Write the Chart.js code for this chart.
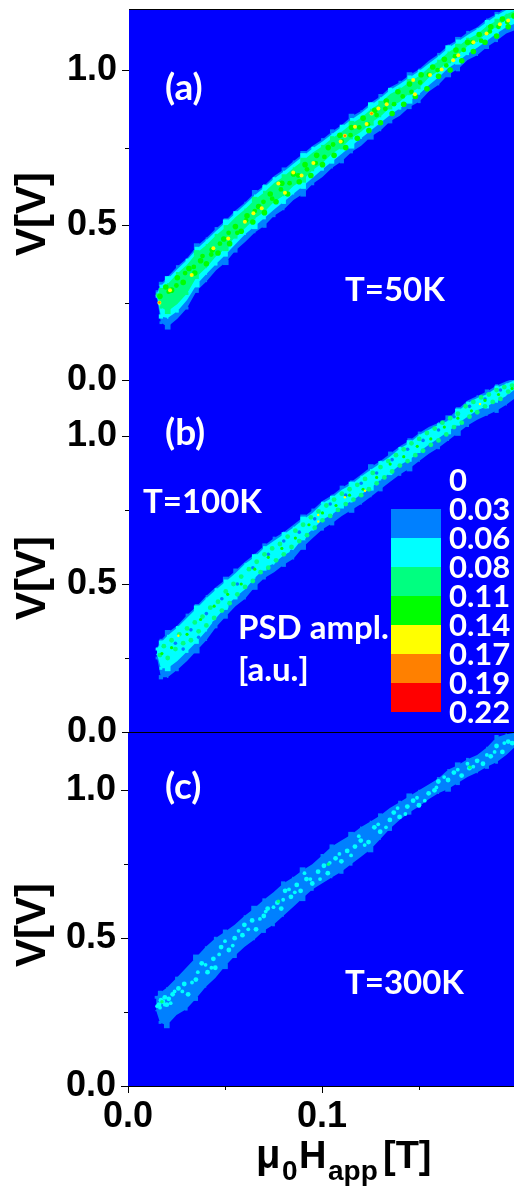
<!DOCTYPE html>
<html><head><meta charset="utf-8">
<script src="https://cdn.jsdelivr.net/npm/chart.js@4"></script>
<style>html,body{margin:0;padding:0;background:#fff}canvas{position:absolute;left:0}</style>
</head><body>
<canvas id="pa" width="514" height="400" style="top:0"></canvas>
<canvas id="pb" width="514" height="380" style="top:370px"></canvas>
<canvas id="pc" width="514" height="469" style="top:720px"></canvas>
<script>
// ---- shared field grid (T) ----
const fieldT=[.0145,.0165,.02,.025,.03,.035,.04,.045,.05,.055,.06,.065,.07,.075,.08,.085,.09,.095,.1,.105,.11,.115,.12,.125,.13,.135,.14,.145,.15,.155,.16,.165,.17,.175,.18,.185,.19,.195,.2];
const xTickValues=[0,.05,.1,.15];
const xTickLabels={0:'0.0',0.1:'0.1'};
const yTickValues=[0,.25,.5,.75,1];
const yTickLabels={0:'0.0',0.5:'0.5',1:'1.0'};
const scaleColors=['#0080ff','#00ffff','#00ff80','#00ff00','#ffff00','#ff8000','#ff0000'];
const scaleLabels=['0','0.03','0.06','0.08','0.11','0.14','0.17','0.19','0.22'];
const edgeR1=[2,3,1,2,0,4,1,2,3,0,1,4,2,0,3,1,4,0,2,3,0,4,1,1,3,0,2,4,1,0,2,1,4,2,0,1,3,1,2];
const edgeR2=[1,2,4,0,2,3,1,0,4,3,0,1,3,2,1,0,4,2,0,1,3,2,0,4,1,3,0,3,2,0,1,4,3,0,1,3,2,0,1];

// ---- panel (a) T=50K ----
const aBlueUp=[.285,.31,.333,.366,.393,.432,.458,.489,.515,.547,.573,.604,.628,.658,.679,.706,.73,.756,.776,.802,.823,.85,.868,.895,.916,.945,.961,.984,1.003,1.03,1.051,1.08,1.098,1.122,1.138,1.164,1.181,1.202,1.215];
const aBlueLow=[.265,.185,.172,.198,.232,.288,.318,.354,.38,.418,.445,.476,.498,.53,.55,.581,.601,.633,.655,.685,.706,.736,.756,.785,.805,.835,.853,.881,.898,.931,.953,.986,1.003,1.033,1.048,1.075,1.095,1.118,1.13];
const aCyanUp=[.28,.303,.326,.358,.387,.423,.451,.481,.509,.538,.566,.596,.622,.65,.673,.698,.723,.748,.77,.794,.817,.841,.862,.887,.91,.936,.955,.976,.997,1.021,1.045,1.071,1.092,1.113,1.133,1.155,1.176,1.194,1.21];
const aCyanLow=[.27,.205,.2,.222,.258,.308,.342,.374,.405,.438,.47,.496,.523,.55,.575,.601,.626,.653,.68,.705,.73,.756,.78,.805,.83,.855,.877,.901,.923,.951,.977,1.006,1.027,1.053,1.072,1.095,1.118,1.138,1.152];
const aSpringUp=[.275,.29,.31,.344,.372,.41,.436,.467,.493,.525,.551,.582,.606,.636,.657,.684,.708,.734,.754,.78,.801,.827,.846,.873,.894,.923,.939,.962,.981,1.008,1.029,1.058,1.076,1.1,1.116,1.142,1.159,1.18,1.193];
const aSpringLow=[.272,.235,.222,.245,.279,.333,.363,.399,.425,.463,.49,.521,.543,.575,.595,.626,.646,.678,.7,.73,.751,.781,.801,.83,.85,.88,.898,.926,.943,.976,.998,1.031,1.048,1.078,1.093,1.12,1.14,1.163,1.175];
const aGreenX=[.016,.019,.022,.025,.028,.031,.034,.037,.04,.043,.046,.049,.052,.055,.058,.061,.064,.067,.07,.073,.076,.079,.082,.085,.088,.091,.094,.097,.1,.103,.106,.109,.112,.115,.118,.121,.124,.127,.13,.133,.136,.139,.142,.145,.148,.151,.154,.157,.16,.163,.166,.169,.172,.175,.178,.181,.184,.187,.19,.193,.196,.199];
const aGreenV=[.27,.3,.29,.33,.315,.36,.345,.385,.375,.42,.41,.455,.44,.495,.48,.53,.51,.56,.54,.6,.575,.635,.6,.665,.64,.695,.66,.725,.695,.75,.725,.79,.75,.815,.78,.845,.805,.87,.83,.9,.86,.93,.89,.955,.915,.985,.94,1.01,.98,1.035,1,1.065,1.03,1.09,1.06,1.115,1.09,1.14,1.11,1.165,1.14,1.175];
const aGreen2X=[.0205,.0245,.029,.0335,.038,.0425,.047,.0515,.056,.0605,.065,.0695,.074,.0785,.083,.0875,.092,.0965,.101,.1055,.11,.1145,.119,.1235,.128,.1325,.137,.1415,.146,.1505,.155,.1595,.164,.1685,.173,.1775,.182,.1865,.191,.1955];
const aGreen2V=[.285,.305,.345,.365,.4,.405,.44,.475,.475,.515,.545,.575,.585,.615,.635,.66,.68,.7,.72,.76,.77,.79,.815,.825,.855,.875,.89,.915,.93,.96,.985,1,1.015,1.045,1.065,1.09,1.095,1.125,1.14,1.155];
const aYellowX=[.0157,.0212,.0324,.0436,.0513,.0599,.0643,.0686,.0772,.0806,.0849,.0892,.0953,.1094,.1116,.1168,.1228,.1254,.1289,.1332,.1469,.1478,.1556,.1616,.1676,.1702,.178,.1848,.1917,.196];
const aYellowV=[.249,.29,.339,.425,.457,.511,.538,.554,.634,.604,.67,.66,.7,.77,.788,.817,.826,.86,.876,.89,.968,.922,.984,1.002,1.032,1.048,1.09,1.118,1.148,1.16];
const aOrangeX=[.0157,.1116,.1254];
const aOrangeV=[.25,.788,.86];

// ---- panel (b) T=100K ----
const bBlueUp=[.285,.31,.335,.36,.395,.425,.46,.49,.515,.545,.575,.6,.63,.655,.675,.7,.725,.75,.78,.8,.825,.845,.87,.895,.915,.94,.965,.985,1.01,1.03,1.045,1.06,1.09,1.12,1.135,1.15,1.17,1.185,1.195];
const bBlueLow=[.25,.185,.185,.21,.24,.275,.31,.355,.39,.425,.45,.49,.52,.54,.565,.585,.625,.655,.685,.705,.73,.75,.77,.795,.82,.845,.87,.89,.915,.94,.96,.985,1.01,1.035,1.055,1.07,1.085,1.105,1.13];
const bCyanUp=[.28,.302,.326,.353,.386,.418,.452,.481,.508,.536,.568,.591,.623,.646,.668,.691,.718,.741,.773,.791,.818,.836,.863,.886,.908,.931,.958,.976,1.003,1.021,1.038,1.051,1.083,1.111,1.128,1.141,1.163,1.176,1.19];
const bCyanLow=[.262,.215,.215,.24,.272,.305,.342,.385,.422,.455,.482,.52,.552,.57,.597,.615,.657,.685,.717,.735,.762,.78,.802,.825,.852,.875,.902,.92,.947,.97,.992,1.015,1.042,1.065,1.087,1.1,1.117,1.135,1.16];
const bDarkX=[.024,.028,.032,.036,.04,.044,.048,.052,.056,.06,.064,.068,.072,.076,.08,.084,.088,.092,.096,.1,.104,.108,.112,.116,.12,.124,.128,.132,.136,.14,.144,.148,.152,.156,.16,.164,.168,.172,.176,.18,.184,.188,.192,.196];
const bDarkV=[.3,.28,.345,.32,.4,.37,.45,.415,.5,.47,.555,.525,.6,.565,.645,.61,.675,.65,.72,.7,.77,.735,.8,.77,.84,.805,.875,.845,.92,.885,.955,.92,.985,.96,1.02,1,1.065,1.035,1.1,1.07,1.125,1.1,1.155,1.135];
const bSpringX=[.016,.018,.02,.022,.024,.026,.028,.03,.032,.034,.036,.038,.04,.042,.044,.046,.048,.05,.052,.054,.056,.058,.06,.062,.064,.066,.068,.07,.072,.074,.076,.078,.08,.082,.084,.086,.088,.09,.092,.094,.096,.098,.1,.102,.104,.106,.108,.11,.112,.114,.116,.118,.12,.122,.124,.126,.128,.13,.132,.134,.136,.138,.14,.142,.144,.146,.148,.15,.152,.154,.156,.158,.16,.162,.164,.166,.168,.17,.172,.174,.176,.178,.18,.182,.184,.186,.188,.19,.192,.194,.196,.198];
const bSpringV=[.26,.29,.25,.31,.28,.33,.3,.35,.31,.37,.34,.39,.36,.42,.385,.44,.41,.475,.435,.5,.465,.525,.49,.55,.51,.575,.54,.6,.555,.62,.58,.635,.6,.66,.625,.68,.645,.7,.665,.725,.69,.745,.715,.765,.73,.785,.75,.805,.77,.82,.785,.835,.8,.855,.82,.875,.84,.895,.86,.915,.88,.935,.9,.955,.915,.975,.935,.99,.95,1.01,.97,1.025,.985,1.045,1.005,1.06,1.03,1.075,1.045,1.1,1.065,1.115,1.08,1.13,1.1,1.14,1.115,1.155,1.125,1.165,1.15,1.17];
const bGreenX=[.017,.022,.03,.037,.044,.051,.058,.065,.072,.079,.086,.093,.1,.107,.114,.121,.128,.135,.142,.149,.156,.163,.17,.177,.184,.191,.198];
const bGreenV=[.265,.285,.33,.38,.425,.465,.5,.55,.59,.62,.655,.7,.74,.765,.8,.82,.86,.905,.93,.965,.99,1.03,1.06,1.085,1.12,1.14,1.16];
const bYellowX=[.0255,.0978,.0978,.1116,.122,.1814];
const bYellowV=[.325,.733,.711,.793,.815,1.108];

// ---- panel (c) T=300K ----
const cBlueUp=[.3,.315,.332,.365,.4,.435,.47,.5,.522,.545,.575,.6,.63,.655,.685,.705,.73,.75,.78,.81,.83,.85,.875,.895,.915,.94,.96,.98,1,1.02,1.04,1.07,1.085,1.105,1.12,1.145,1.18,1.19,1.195];
const cBlueLow=[.255,.215,.205,.24,.26,.295,.335,.365,.405,.44,.47,.495,.525,.545,.575,.605,.635,.665,.685,.705,.725,.75,.775,.8,.835,.87,.9,.925,.945,.97,.99,1.005,1.025,1.045,1.06,1.08,1.095,1.12,1.15];
const cCyanX=[.016,.017,.018,.019,.02,.021,.023,.026,.029,.031,.035,.038,.041,.044,.045,.048,.052,.055,.059,.06,.064,.066,.07,.072,.077,.079,.081,.084,.087,.089,.092,.095,.098,.101,.103,.107,.11,.113,.117,.12,.124,.127,.13,.135,.137,.14,.144,.147,.15,.155,.158,.16,.165,.168,.172,.176,.18,.183,.187,.19,.193,.196,.198];
const cCyanV=[.275,.29,.285,.3,.275,.295,.31,.33,.345,.31,.36,.415,.385,.43,.4,.47,.46,.5,.51,.545,.56,.53,.575,.6,.62,.6,.66,.64,.68,.66,.7,.685,.725,.745,.72,.77,.76,.795,.81,.83,.825,.875,.86,.9,.925,.91,.945,.965,.95,.99,1,1.03,1.035,1.06,1.05,1.075,1.1,1.09,1.115,1.15,1.13,1.165,1.16];
const cCyan2X=[.015,.0165,.019,.022,.024,.028,.033,.036,.04,.043,.047,.05,.054,.057,.062,.068,.071,.075,.08,.083,.086,.091,.094,.099,.104,.109,.115,.119,.122,.129,.133,.139,.143,.149,.153,.159,.163,.17,.175,.178,.185,.189,.194];
const cCyan2V=[.27,.265,.275,.28,.32,.32,.35,.385,.41,.4,.445,.49,.475,.525,.53,.565,.59,.605,.63,.665,.655,.72,.7,.7,.755,.785,.78,.845,.815,.885,.875,.94,.92,.975,.965,1.01,1.045,1.07,1.09,1.08,1.12,1.13,1.16];
const cSpringX=[.0175,.0775,.1033,.1762];
const cSpringV=[.285,.625,.75,1.078];

function pts(xs,vs){return xs.map((x,i)=>({x:x,y:vs[i]}));}
function band(up,low,color){return [
  {data:pts(fieldT,up),fill:'+1',backgroundColor:color,borderWidth:0,pointRadius:0,tension:0},
  {data:pts(fieldT,low),fill:false,borderWidth:0,pointRadius:0,tension:0}];}
function dots(xs,vs,color,r,style){return [
  {data:pts(xs,vs),showLine:false,fill:false,pointStyle:style||'circle',pointRadius:r,pointBorderWidth:0,pointBackgroundColor:color,borderWidth:0}];}
function edges(up,low,color,rUp,rLow){return [dots(fieldT,up,color,rUp,'rect'),dots(fieldT,low,color,rLow,'rect')];}

const fontNote='bold 33px Lato';
const fontBig='bold 37px Lato';
const tickFont={family:'Liberation Sans',size:36,weight:'bold'};

function panel(id,cfg){
  const layers=cfg.layers.flat(2);
  layers.forEach((d,i)=>{d.order=layers.length-i;});
  const fixY=s=>{s.width=cfg.left;s.paddingTop=s.paddingBottom=s.paddingLeft=s.paddingRight=0;};
  const fixX=s=>{s.height=cfg.xAxis?cfg.bottomH:0;s.paddingTop=s.paddingBottom=s.paddingLeft=s.paddingRight=0;};
  new Chart(document.getElementById(id),{
    type:'line',
    data:{datasets:layers},
    plugins:[{
      id:'frame',
      beforeDatasetsDraw(ch){const a=ch.chartArea,c=ch.ctx;c.save();c.fillStyle='#0000ff';c.fillRect(a.left,a.top,a.width,a.height);c.restore();},
      afterDraw(ch){
        const a=ch.chartArea,c=ch.ctx;c.save();
        c.strokeStyle='#000';c.lineWidth=1;
        if(cfg.topLine){c.beginPath();c.moveTo(a.left,a.top-.5);c.lineTo(a.right,a.top-.5);c.stroke();}
        yTickValues.forEach(v=>{const p=Math.round(ch.scales.y.getPixelForValue(v))+.5,l=yTickLabels[v]?7:4;
          c.beginPath();c.moveTo(a.left-l,p);c.lineTo(a.left,p);c.stroke();});
        if(cfg.xAxis){xTickValues.forEach(v=>{const p=Math.round(ch.scales.x.getPixelForValue(v))+.5,l=xTickLabels[v]?7:4;
          c.beginPath();c.moveTo(p,a.bottom);c.lineTo(p,a.bottom+l);c.stroke();});}
        c.textBaseline='middle';c.textAlign='left';c.fillStyle='#fff';
        (cfg.notes||[]).forEach(n=>{c.font=n[3]||fontNote;c.fillText(n[0],n[1],n[2]);});
        if(cfg.colorbar){
          scaleColors.forEach((col,i)=>{c.fillStyle=col;c.fillRect(391,139+i*29,50,29);});
          c.fillStyle='#fff';c.font='bold 31px Lato';
          scaleLabels.forEach((t,i)=>c.fillText(t,449,111+i*29));
        }
        c.fillStyle='#000';
        c.save();c.translate(33,cfg.titleY);c.rotate(-Math.PI/2);c.textAlign='center';c.font='bold 42px "Liberation Sans"';c.fillText('V[V]',0,0);c.restore();
        if(cfg.xAxis){
          c.textBaseline='alphabetic';
          c.font='bold 40px "Liberation Sans"';c.fillText('μ',256,448);
          c.font='bold 28px "Liberation Sans"';c.fillText('0',282,460);
          c.font='bold 38px "Liberation Sans"';c.fillText('H',299,448);
          c.font='bold 28px "Liberation Sans"';c.fillText('app',328,460);
          c.font='bold 38px "Liberation Sans"';c.fillText('[T]',383,448);
        }
        c.restore();
      }
    }],
    options:{
      responsive:false,animation:false,devicePixelRatio:1,
      layout:{autoPadding:false,padding:{top:cfg.top,bottom:cfg.bottom,left:0,right:0}},
      plugins:{legend:{display:false},tooltip:{enabled:false},title:{display:false}},
      elements:{line:{borderWidth:0}},
      scales:{
        x:{type:'linear',min:0,max:.199,afterFit:fixX,afterBuildTicks:s=>{s.ticks=xTickValues.map(v=>({value:v}));},
          border:{display:true,color:'#000',width:1},grid:{drawOnChartArea:false,drawTicks:false},
          ticks:{display:!!cfg.xAxis,autoSkip:false,maxRotation:0,padding:9,color:'#000',font:tickFont,callback:v=>xTickLabels[v]||''}},
        y:{type:'linear',min:0,max:cfg.ymax,afterFit:fixY,afterBuildTicks:s=>{s.ticks=yTickValues.map(v=>({value:v}));},
          border:{display:true,color:'#000',width:1},grid:{drawOnChartArea:false,drawTicks:false},
          ticks:{autoSkip:false,padding:12,color:'#000',font:tickFont,callback:v=>yTickLabels[v]||''}}
      }
    }
  });
}

panel('pa',{left:129,top:10,bottom:20,ymax:1.194,titleY:214,topLine:true,
  notes:[['(a)',165,88,fontBig],['T=50K',345,290]],
  layers:[edges(aBlueUp,aBlueLow,'#0080ff',edgeR1,edgeR2),band(aBlueUp,aBlueLow,'#0080ff'),
    edges(aCyanUp,aCyanLow,'#00ffff',edgeR2,edgeR1),band(aCyanUp,aCyanLow,'#00ffff'),
    edges(aSpringUp,aSpringLow,'#00ff80',edgeR1,edgeR2),band(aSpringUp,aSpringLow,'#00ff80'),
    dots(aGreenX,aGreenV,'#00ff00',2.8),dots(aGreen2X,aGreen2V,'#00ff00',2.4),dots(aYellowX,aYellowV,'#ffff00',2),dots(aOrangeX,aOrangeV,'#ff8000',1.3)]});
panel('pb',{left:129,top:10,bottom:18,ymax:1.189,titleY:208,
  notes:[['(b)',165,63,fontBig],['T=100K',143,132],['PSD ampl.',238,258],['[a.u.]',238,300]],colorbar:true,
  layers:[edges(bBlueUp,bBlueLow,'#0080ff',edgeR2,edgeR1),band(bBlueUp,bBlueLow,'#0080ff'),
    edges(bCyanUp,bCyanLow,'#00ffff',edgeR1,edgeR2),band(bCyanUp,bCyanLow,'#00ffff'),
    dots(bDarkX,bDarkV,'#0080ff',1.8),dots(bSpringX,bSpringV,'#00ff80',2.4),dots(bGreenX,bGreenV,'#00ff00',1.6),dots(bYellowX,bYellowV,'#ffff00',1.2)]});
panel('pc',{left:128,top:13,bottom:0,bottomH:103,ymax:1.194,titleY:205,topLine:true,xAxis:true,
  notes:[['(c)',165,67,fontBig],['T=300K',345,263]],
  layers:[edges(cBlueUp,cBlueLow,'#0080ff',edgeR1,edgeR2),band(cBlueUp,cBlueLow,'#0080ff'),
    dots(cCyanX,cCyanV,'#00ffff',2.4),dots(cCyan2X,cCyan2V,'#00ffff',1.9),dots(cSpringX,cSpringV,'#00ff80',1.8)]});
</script>
</body></html>
